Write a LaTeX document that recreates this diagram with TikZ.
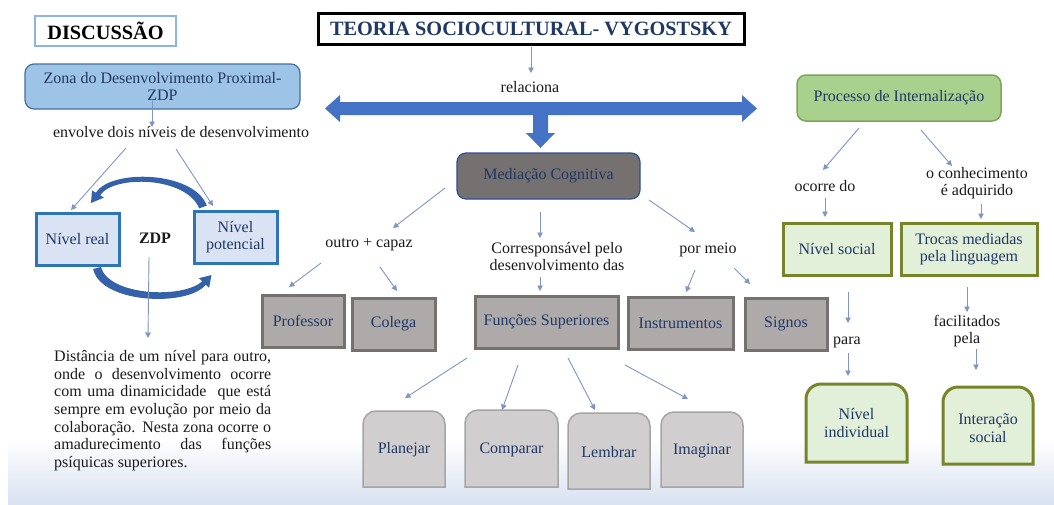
\documentclass[tikz,border=0pt]{standalone}
\usepackage{fontspec}
\setmainfont{Liberation Serif}
\usetikzlibrary{arrows.meta,calc}
\definecolor{navy}{HTML}{1F3864}
\definecolor{txt}{HTML}{1A1A1A}
\definecolor{conncol}{HTML}{7F95C2}
\definecolor{bgb}{HTML}{D9E2F1}
\definecolor{discb}{HTML}{8EB4E3}
\definecolor{zfill}{HTML}{9DC3E6}
\definecolor{zdraw}{HTML}{41719C}
\definecolor{lfill}{HTML}{DAE3F3}
\definecolor{ldraw}{HTML}{2E75B6}
\definecolor{bigblue}{HTML}{4472C4}
\definecolor{arrc}{HTML}{3560AA}
\definecolor{mfill}{HTML}{767171}
\definecolor{mdraw}{HTML}{2F528F}
\definecolor{gfill}{HTML}{AEAAAA}
\definecolor{gdraw}{HTML}{767171}
\definecolor{lgfill}{HTML}{D0CECE}
\definecolor{lgdraw}{HTML}{A5A5A5}
\definecolor{pfill}{HTML}{A9D18E}
\definecolor{pdraw}{HTML}{7FA35A}
\definecolor{grfill}{HTML}{E2EFD9}
\definecolor{grdraw}{HTML}{76852A}
\newcommand\toprnd[6]{%
  \draw[#6] (#1,#4) -- (#1,#2+#5) .. controls (#1,#2+0.4477*#5) and (#1+0.4477*#5,#2) .. (#1+#5,#2)
  -- (#3-#5,#2) .. controls (#3-0.4477*#5,#2) and (#3,#2+0.4477*#5) .. (#3,#2+#5) -- (#3,#4) -- cycle;}
\begin{document}
\begin{tikzpicture}[x=1pt,y=-1pt,
  lbl/.style={font=\fontsize{16}{17.5}\selectfont, text=txt, align=center, inner sep=0},
  btxt/.style={font=\fontsize{16}{17.5}\selectfont, text=navy, align=center, inner sep=0},
  conn/.style={draw=conncol, line width=0.9pt, -{Triangle[length=5.5pt,width=5.5pt]}},
  lvl/.style={btxt, fill=lfill, draw=ldraw, line width=3pt},
  gbox/.style={btxt, fill=gfill, draw=gdraw, line width=3pt},
  grbox/.style={btxt, fill=grfill, draw=grdraw, line width=3pt},
  heading/.style={font=\bfseries\fontsize{20.3}{21}\selectfont, inner sep=0}]
\useasboundingbox (0,0) rectangle (1054,504);
\fill[white] (0,0) rectangle (1054,504);
\shade[top color=white, bottom color=bgb] (8,438) rectangle (1054,504);

% headings
\node[heading, draw=discb, line width=1.5pt, minimum width=141, minimum height=30, text=black] (disc) at (105.5,31) {DISCUSSÃO\hspace{6pt}};
\node[heading, draw=black, line width=3pt, minimum width=426, minimum height=31, text=navy] (title) at (531,28.5) {TEORIA SOCIOCULTURAL- VYGOSTSKY\hspace{8pt}};

% big blue arrow
\fill[bigblue] (325,108.5) -- (340,95) -- (340,102) -- (742,102) -- (742,95) -- (757,108.5) -- (742,122) -- (742,115)
  -- (548,115) -- (548,133) -- (555,133) -- (540.5,148) -- (526,133) -- (533,133) -- (533,115) -- (340,115) -- (340,122) -- cycle;

\node[lbl] (rel) at (530,87) {relaciona};

% left column
\node[btxt, fill=zfill, draw=zdraw, line width=1.2pt, rounded corners=9, minimum width=275, minimum height=45] (zona) at (162.5,86.5) {Zona do Desenvolvimento Proximal-\\ZDP};
\node[lbl] (env) at (181,132) {envolve dois níveis de desenvolvimento};
\node[lvl, minimum width=83, minimum height=52] (real) at (77.5,239) {Nível real};
\node[lvl, minimum width=83, minimum height=52] (pot) at (235.5,237) {Nível\\potencial};
\node[lbl, font=\bfseries\fontsize{16}{17.5}\selectfont] (zdp) at (155,238) {ZDP};
\node[anchor=north west, text width=217pt, align=justify, font=\fontsize{16}{17.7}\selectfont, text=txt, inner sep=0] (para) at (54,350)
{Distância de um nível para outro,\linebreak onde o desenvolvimento ocorre\linebreak com uma dinamicidade \ que está\linebreak sempre em evolução por meio da\linebreak colaboração. Nesta zona ocorre o\linebreak amadurecimento das funções\linebreak psíquicas superiores.};

% curved arrows
\fill[arrc] (206.8,205.6) .. controls (194,171) and (111,168.5) .. (95.9,192.7) -- (92,190.4) -- (91,203) -- (103.9,197.6) -- (100.1,195.3) .. controls (113,175) and (186,176) .. (199.2,208.4) -- cycle;
\fill[arrc] (93.1,269) .. controls (101,304) and (188,307) .. (205.8,284.7) -- (209.1,287.8) -- (211.5,275) -- (198.9,278.2) -- (202.2,281.3) .. controls (183,299) and (109,296) .. (100.9,267) -- cycle;

% middle
\node[btxt, fill=mfill, draw=mdraw, line width=1.2pt, rounded corners=9, minimum width=183, minimum height=46] (med) at (548.5,176) {Mediação Cognitiva};
\node[lbl] (outro) at (369,245) {outro + capaz};
\node[lbl] (corr) at (557,256.5) {Corresponsável pelo\\desenvolvimento das};
\node[lbl] (pormeio) at (708,250) {por meio};
\node[gbox, minimum width=82, minimum height=52] (prof) at (303,321) {Professor};
\node[gbox, minimum width=83, minimum height=52] (colega) at (393.5,324) {Colega};
\node[gbox, minimum width=143, minimum height=52] (func) at (546.5,322) {Funções Superiores};
\node[gbox, minimum width=105, minimum height=52] (instr) at (680.5,323) {Instrumentos};
\node[gbox, minimum width=82, minimum height=52] (signos) at (786,324) {Signos};

\toprnd{363}{411}{445}{487}{13}{fill=lgfill, draw=lgdraw, line width=1.5pt}
\toprnd{465}{410}{558}{487}{13}{fill=lgfill, draw=lgdraw, line width=1.5pt}
\toprnd{568}{413}{650}{489}{13}{fill=lgfill, draw=lgdraw, line width=1.5pt}
\toprnd{661}{412}{743}{487}{13}{fill=lgfill, draw=lgdraw, line width=1.5pt}
\node[btxt] (plan) at (404,450) {Planejar};
\node[btxt] (comp) at (511.5,450) {Comparar};
\node[btxt] (lemb) at (609,452) {Lembrar};
\node[btxt] (imag) at (702,451) {Imaginar};

% right column
\node[btxt, fill=pfill, draw=pdraw, line width=1.5pt, rounded corners=9, minimum width=204, minimum height=46] (proc) at (899,98) {Processo de Internalização};
\node[lbl] (ocorre) at (825,186) {ocorre do};
\node[lbl] (conhec) at (977,183) {o conhecimento\\é adquirido};
\node[grbox, minimum width=108, minimum height=52] (social) at (837,249) {Nível social};
\node[grbox, minimum width=136, minimum height=52] (trocas) at (969,249) {Trocas mediadas\\pela linguagem};
\node[lbl] (para2) at (847,342) {para};
\node[lbl] (facil) at (967,331) {facilitados\\pela};
\toprnd{806}{384}{907}{462}{15}{fill=grfill, draw=grdraw, line width=3pt}
\toprnd{943}{387}{1033}{464}{15}{fill=grfill, draw=grdraw, line width=3pt}
\node[btxt] (indiv) at (856.5,423) {Nível\\individual};
\node[btxt] (inter) at (988,428) {Interação\\social};

% connector end points
\coordinate (t1) at (531,47);   \coordinate (t2) at (531,73);
\coordinate (z1) at (152,100);  \coordinate (z2) at (152,127);
\coordinate (e1) at (126,148);  \coordinate (e2) at (71,210);
\coordinate (e3) at (176,149);  \coordinate (e4) at (213,206);
\coordinate (d1) at (149,257);  \coordinate (d2) at (148,338);
\coordinate (m1) at (445,188);  \coordinate (m2) at (393,228);
\coordinate (m3) at (540,212);  \coordinate (m4) at (540,238);
\coordinate (m5) at (649,200);  \coordinate (m6) at (695,232);
\coordinate (o1) at (321,263);  \coordinate (o2) at (289,287);
\coordinate (o3) at (380,267);  \coordinate (o4) at (397,291);
\coordinate (c1) at (540,277);  \coordinate (c2) at (540,291);
\coordinate (p1) at (695,270);  \coordinate (p2) at (686,292);
\coordinate (p3) at (734,268);  \coordinate (p4) at (750,284);
\coordinate (f1) at (467,358);  \coordinate (f2) at (405,398);
\coordinate (f3) at (518,365);  \coordinate (f4) at (502,410);
\coordinate (f5) at (568,358);  \coordinate (f6) at (595,410);
\coordinate (f7) at (625,365);  \coordinate (f8) at (688,399);
\coordinate (r1) at (859,128);  \coordinate (r2) at (823,170);
\coordinate (r3) at (921,130);  \coordinate (r4) at (952,166);
\coordinate (r5) at (825,198);  \coordinate (r6) at (825,217);
\coordinate (r7) at (981,204);  \coordinate (r8) at (981,219);
\coordinate (s1) at (848,292);  \coordinate (s2) at (848,323);
\coordinate (s3) at (848,353);  \coordinate (s4) at (848,376);
\coordinate (s5) at (967,287);  \coordinate (s6) at (967,312);
\coordinate (s7) at (976,349);  \coordinate (s8) at (976,370);

\foreach \a/\b in {t1/t2,z1/z2,e1/e2,e3/e4,d1/d2,m1/m2,m3/m4,m5/m6,o1/o2,o3/o4,c1/c2,p1/p2,p3/p4,
  f1/f2,f3/f4,f5/f6,f7/f8,r1/r2,r3/r4,r5/r6,r7/r8,s1/s2,s3/s4,s5/s6,s7/s8}
  \draw[conn] (\a) -- (\b);
\end{tikzpicture}
\end{document}
